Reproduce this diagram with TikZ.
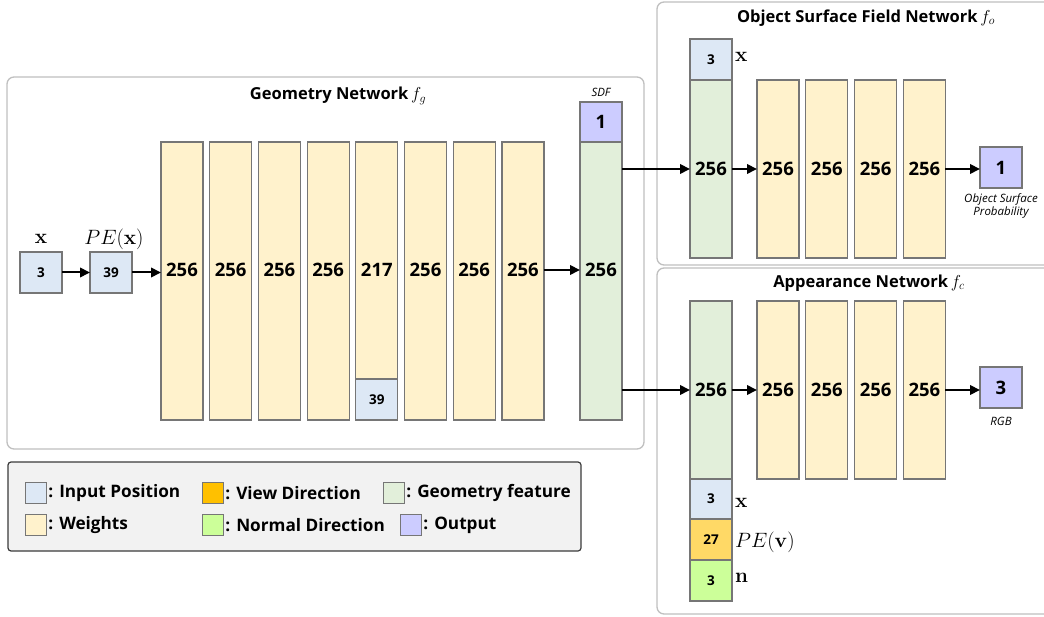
\documentclass[tikz,border=0pt]{standalone}
\usepackage[no-math]{fontspec}
\setmainfont{Open Sans}
\usetikzlibrary{arrows.meta}
\definecolor{wcol}{HTML}{FFF2CC}
\definecolor{incol}{HTML}{DDE8F5}
\definecolor{geocol}{HTML}{E2EFDA}
\definecolor{outcol}{HTML}{CCCCFF}
\definecolor{viewcol}{HTML}{FFC000}
\definecolor{pevcol}{HTML}{FFD966}
\definecolor{normcol}{HTML}{CCFF99}
\definecolor{bcol}{HTML}{767676}
\definecolor{contcol}{HTML}{C0C0C0}
\definecolor{legfill}{HTML}{F2F2F2}
\definecolor{legdraw}{HTML}{3A3A3A}
\begin{document}
\begin{tikzpicture}[x=1pt,y=-1pt,
  blk/.style={draw=bcol, line width=1.2pt, inner sep=0pt, outer sep=0pt, anchor=north west, minimum width=42pt},
  num/.style={font=\fontsize{18.5}{20}\selectfont\bfseries, inner sep=0pt},
  snum/.style={font=\fontsize{13.5}{15}\selectfont\bfseries, inner sep=0pt},
  mlab/.style={font=\fontsize{21}{24}\selectfont, inner sep=0pt},
  ilab/.style={font=\fontsize{11.5}{14}\selectfont\itshape, inner sep=0pt, align=center},
  ttl/.style={font=\fontsize{16.5}{19}\selectfont\bfseries, inner sep=0pt},
  cont/.style={draw=contcol, line width=1.3pt, rounded corners=7pt},
  arr/.style={-{Triangle[length=10pt,width=9.5pt]}, line width=2pt, black},
  sw/.style={draw=bcol, line width=1.2pt, inner sep=0pt, anchor=west, minimum width=21pt, minimum height=21pt},
  legt/.style={font=\fontsize{17.2}{19}\selectfont\bfseries, inner sep=1pt, anchor=west}]
\useasboundingbox (0,0) rectangle (1044,617);
% containers
\draw[cont, fill=white] (7,77) rectangle (644,449);
\draw[cont, fill=white] (657,2) rectangle (1070,265);
\draw[cont, fill=white] (657,268) rectangle (1070,614);
% titles
\node[ttl] (tg) at (338,96) {Geometry Network\,$f_g$};
\node[ttl] (to) at (866,18) {Object Surface Field Network\,$f_o$};
\node[ttl] (ta) at (869,283) {Appearance Network\,$f_c$};
% geometry inputs
\node[blk, fill=incol, minimum height=41pt] (xin) at (20,252) {};
\node[snum] (xint) at (xin.center) {3};
\node[blk, fill=incol, minimum height=41pt] (pe) at (90,252) {};
\node[snum] (pet) at (pe.center) {39};
\node[mlab] (xl) at (41,239) {$\mathbf{x}$};
\node[mlab] (pel) at (114,239) {$PE(\mathbf{x})$};
% geometry columns
\foreach \i/\x in {1/161,2/209.7,3/258.4,4/307.1,6/404.5,7/453.2,8/501.9}{
  \node[blk, fill=wcol, minimum height=278pt] (g\i) at (\x,142) {};
  \node[num] (t\i) at (\x+21,270) {256};
}
\node[blk, fill=wcol, minimum height=237pt] (g5) at (355.8,142) {};
\node[num] (t5) at (376.8,270) {217};
\node[blk, fill=incol, minimum height=41pt] (g5b) at (355.8,379) {};
\node[snum] (t5b) at (g5b.center) {39};
% SDF column
\node[blk, fill=outcol, minimum height=40pt] (sdf) at (580,102) {};
\node[num] (sdft) at (sdf.center) {1};
\node[ilab] (sdfl) at (601,92) {SDF};
\node[blk, fill=geocol, minimum height=278pt] (gf) at (580,142) {};
\node[num] (gft) at (601,270) {256};
% arrows geometry
\draw[arr] (xin.east) -- (pe.west);
\draw[arr] (pe.east) -- (pe.east -| g1.west);
\draw[arr] (g8.east |- t8) -- (gf.west |- t8);
% object surface network
\node[blk, fill=incol, minimum height=41pt] (obx) at (690,39) {};
\node[snum] (obxt) at (obx.center) {3};
\node[mlab] (obxl) at (735,57) [anchor=west] {$\mathbf{x}$};
\node[blk, fill=geocol, minimum height=178pt] (og) at (690,80) {};
\node[num] (ogt) at (og.center) {256};
\foreach \i/\x in {1/757,2/805.8,3/854.6,4/903.4}{
  \node[blk, fill=wcol, minimum height=178pt] (ow\i) at (\x,80) {};
  \node[num] (owt\i) at (ow\i.center) {256};
}
\node[blk, fill=outcol, minimum height=41pt] (oo) at (980,147) {};
\node[num] (oot) at (oo.center) {1};
\node[ilab] (ool) at (1001,206) {Object Surface\\[-1pt]Probability};
\draw[arr] (gf.east |- og.west) -- (og.west);
\draw[arr] (og.east) -- (ow1.west);
\draw[arr] (ow4.east) -- (ow4.east -| oo.west);
% appearance network
\node[blk, fill=geocol, minimum height=178pt] (ag) at (690,301) {};
\node[num] (agt) at (ag.center) {256};
\node[blk, fill=incol, minimum height=40pt] (ax) at (690,479) {};
\node[snum] (axt) at (ax.center) {3};
\node[blk, fill=pevcol, minimum height=41pt] (av) at (690,519) {};
\node[snum] (avt) at (av.center) {27};
\node[blk, fill=normcol, minimum height=41pt] (an) at (690,560) {};
\node[snum] (ant) at (an.center) {3};
\node[mlab, anchor=west] (axl) at (735,503) {$\mathbf{x}$};
\node[mlab, anchor=west] (avl) at (735,542) {$PE(\mathbf{v})$};
\node[mlab, anchor=west] (anl) at (735,578) {$\mathbf{n}$};
\foreach \i/\x in {1/757,2/805.8,3/854.6,4/903.4}{
  \node[blk, fill=wcol, minimum height=178pt] (aw\i) at (\x,301) {};
  \node[num] (awt\i) at (aw\i.center) {256};
}
\node[blk, fill=outcol, minimum height=41pt] (ao) at (980,367) {};
\node[num] (aot) at (ao.center) {3};
\node[ilab] (aol) at (1001,421) {RGB};
\draw[arr] (gf.east |- ag.west) -- (ag.west);
\draw[arr] (ag.east) -- (aw1.west);
\draw[arr] (aw4.east) -- (aw4.east -| ao.west);
% legend
\draw[draw=legdraw, fill=legfill, line width=1.2pt, rounded corners=3pt] (8,462) rectangle (581,551);
\node[sw, fill=incol] (s1) at (25,493) {};
\node[legt] (l1) at (s1.east) {: Input Position};
\node[sw, fill=viewcol] (s2) at (202,493) {};
\node[legt] (l2) at (s2.east) {: View Direction};
\node[sw, fill=geocol] (s3) at (383,493) {};
\node[legt] (l3) at (s3.east) {: Geometry feature};
\node[sw, fill=wcol] (s4) at (25,525) {};
\node[legt] (l4) at (s4.east) {: Weights};
\node[sw, fill=normcol] (s5) at (202,525) {};
\node[legt] (l5) at (s5.east) {: Normal Direction};
\node[sw, fill=outcol] (s6) at (400,525) {};
\node[legt] (l6) at (s6.east) {: Output};
\end{tikzpicture}
\end{document}
